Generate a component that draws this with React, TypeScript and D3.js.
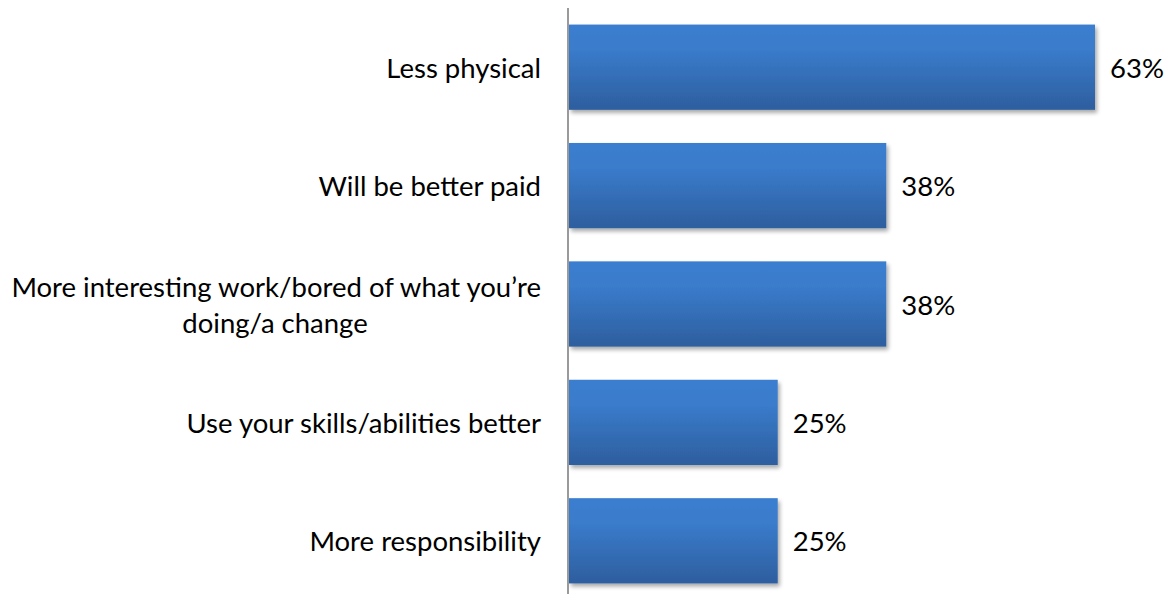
import React from "react";
import * as d3 from "d3";

const categories: string[][] = [
  ["Less physical"],
  ["Will be better paid"],
  ["More interesting work/bored of what you\u2019re", "doing/a change"],
  ["Use your skills/abilities better"],
  ["More responsibility"],
];
const values: number[] = [63, 38, 38, 25, 25];
const valueLabels: string[] = ["63%", "38%", "38%", "25%", "25%"];

const W = 1175;
const H = 594;
const FONT = "Lato, 'Open Sans', sans-serif";

export default function App() {
  const idx = categories.map((_, i) => i);
  const y = d3.scaleBand<number>().domain(idx).range([8, 600]).paddingInner(0.28).paddingOuter(0.14);
  const x = d3.scaleLinear().domain([0, 63]).range([569, 1095]);
  const labelX = 541;
  const fs = 27.5;
  const lineH = 36;
  return (
    <svg width={W} height={H} style={{ position: "absolute", left: 0, top: 0, background: "#fff" }} fontFamily={FONT}>
      <defs>
        <linearGradient id="barGrad" x1="0" y1="0" x2="0" y2="1">
          <stop offset="0%" stopColor="#3b7ecf" />
          <stop offset="30%" stopColor="#3a7bcb" />
          <stop offset="100%" stopColor="#2d5e9e" />
        </linearGradient>
        <filter id="shadow" x="-5%" y="-10%" width="115%" height="130%">
          <feGaussianBlur in="SourceAlpha" stdDeviation="2" />
          <feOffset dx="2" dy="3" result="b" />
          <feComponentTransfer>
            <feFuncA type="linear" slope="0.35" />
          </feComponentTransfer>
          <feMerge>
            <feMergeNode />
            <feMergeNode in="SourceGraphic" />
          </feMerge>
        </filter>
      </defs>
      {idx.map((i) => {
        const y0 = y(i)!;
        const bw = y.bandwidth();
        const cy = y0 + bw / 2;
        const lines = categories[i];
        const startY = cy - ((lines.length - 1) * lineH) / 2;
        return (
          <g key={i}>
            <rect x={x(0)} y={y0} width={x(values[i]) - x(0)} height={bw} fill="url(#barGrad)" filter="url(#shadow)" />
            {lines.map((l, j) => (
              <text
                key={j}
                x={labelX}
                y={startY + j * lineH}
                textAnchor={lines.length > 1 && j > 0 ? "middle" : "end"}
                dx={lines.length > 1 && j > 0 ? -266 : 0}
                dominantBaseline="central"
                fontSize={fs}
                fill="#000"
              >
                {l}
              </text>
            ))}
            <text x={x(values[i]) + 15} y={cy} dominantBaseline="central" fontSize={fs} fill="#000">
              {valueLabels[i]}
            </text>
          </g>
        );
      })}
      <line x1={568} x2={568} y1={8} y2={594} stroke="#9a9a9a" strokeWidth={2} />
    </svg>
  );
}
